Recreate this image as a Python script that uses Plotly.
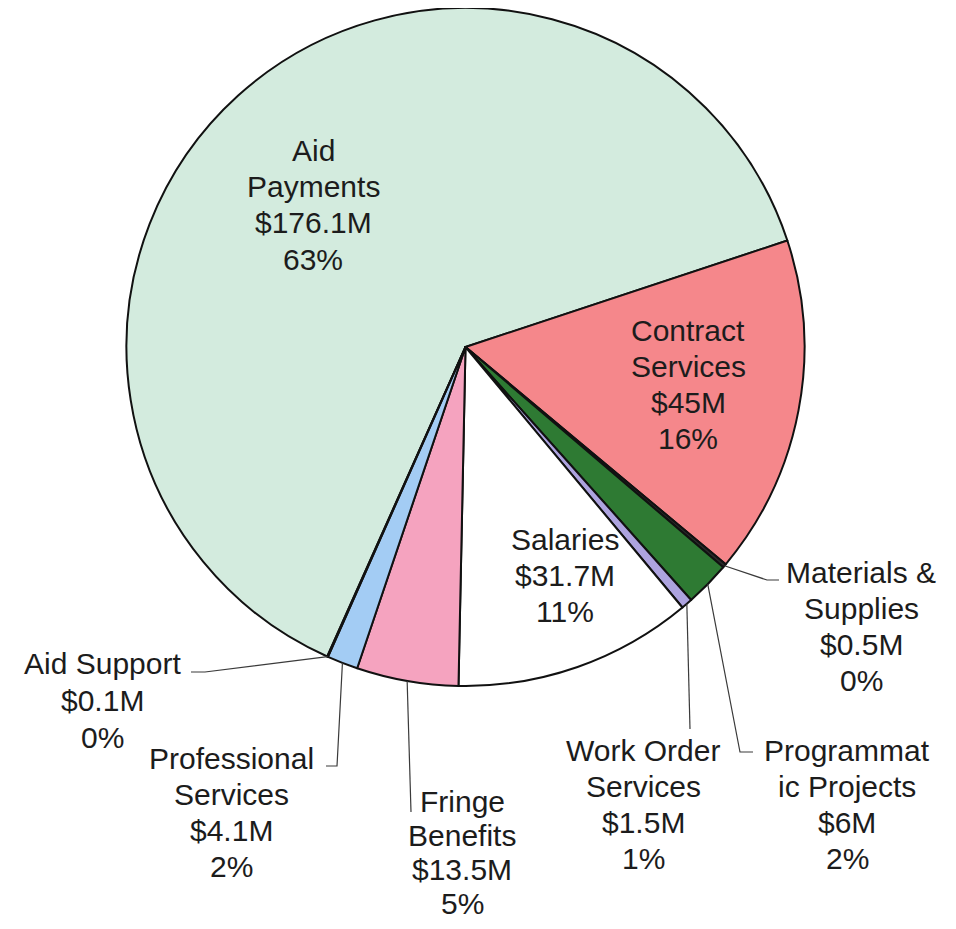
import math
import plotly.graph_objects as go

# ---------------- data ----------------
categories = ["Aid Payments", "Contract Services", "Materials & Supplies",
              "Programmatic Projects", "Work Order Services", "Salaries",
              "Fringe Benefits", "Professional Services", "Aid Support"]
label_lines = [["Aid", "Payments"], ["Contract", "Services"], ["Materials &", "Supplies"],
               ["Programmat", "ic Projects"], ["Work Order", "Services"], ["Salaries"],
               ["Fringe", "Benefits"], ["Professional", "Services"], ["Aid Support"]]
values_musd = [176.1, 45, 0.5, 6, 1.5, 31.7, 13.5, 4.1, 0.1]
value_labels = ["$176.1M", "$45M", "$0.5M", "$6M", "$1.5M", "$31.7M", "$13.5M", "$4.1M", "$0.1M"]
percent_labels = ["63%", "16%", "0%", "2%", "1%", "11%", "5%", "2%", "0%"]

# ---------------- styles ----------------
colors = ["#D3EBDE", "#F5878B", "#2A2A2A", "#2E7A33", "#ADA3DF",
          "#FFFFFF", "#F5A3BF", "#A3CCF4", "#E8D66A"]

OFFSET = 8                           # page body margin (pixels)
W, H = 956 - 2 * OFFSET, 929 - 2 * OFFSET
CX, CY, R = 465.5, 347.0, 339.0      # pie centre / radius in window pixels
CONTRACT_START = 71.7                # clockwise degrees from 12 o'clock
FONT = dict(family="Liberation Sans, Arial, sans-serif", size=30, color="#1c1c1c")

# label placement: centre x, first-line y, line gap (window pixels), leader-line bend points
label_layout = {
    "Aid Payments":          (313, 150, 36.5, None),
    "Contract Services":     (688, 330, 36.0, None),
    "Materials & Supplies":  (861, 572, 36.0, [(767, 580), (779, 580)]),
    "Programmatic Projects": (847, 750, 36.0, [(740, 752), (753, 752)]),
    "Work Order Services":   (643, 750, 36.0, [(690, 729)]),
    "Salaries":              (565, 539, 36.0, None),
    "Fringe Benefits":       (462, 801, 34.0, [(411, 812)]),
    "Professional Services": (231, 758, 36.3, [(337, 766), (326, 766)]),
    "Aid Support":           (102, 663, 37.0, [(205, 672), (191, 672)]),
}


def px(x):
    return (x - OFFSET) / W


def py(y):
    return 1 - (y - OFFSET) / H


total = sum(values_musd)
rotation = CONTRACT_START - 360 * values_musd[0] / total

fig = go.Figure(go.Pie(
    labels=categories,
    values=values_musd,
    sort=False,
    direction="clockwise",
    rotation=rotation,
    marker=dict(colors=colors, line=dict(color="#111111", width=2)),
    textinfo="none",
    hoverinfo="label+value+percent",
    showlegend=False,
    domain=dict(x=[max(0, px(CX - R)), min(1, px(CX + R))],
                y=[max(0, py(CY + R)), min(1, py(CY - R))]),
))

annotations = []
shapes = []
cum = 0.0
for i, name in enumerate(categories):
    start = rotation + 360 * cum / total
    cum += values_musd[i]
    mid = math.radians(start + 180 * values_musd[i] / total)
    xc, y0, gap, bends = label_layout[name]
    lines = label_lines[i] + [value_labels[i], percent_labels[i]]
    for k, t in enumerate(lines):
        annotations.append(dict(
            x=px(xc), y=py(y0 + k * gap), xref="paper", yref="paper",
            text=t, showarrow=False, xanchor="center", yanchor="middle",
            font=FONT,
        ))
    if bends:
        ex = CX + R * math.sin(mid)
        ey = CY - R * math.cos(mid)
        path = "M {:.5f} {:.5f}".format(px(ex), py(ey))
        for bx, by in bends:
            path += " L {:.5f} {:.5f}".format(px(bx), py(by))
        shapes.append(dict(type="path", xref="paper", yref="paper", path=path,
                           line=dict(color="#3a3a3a", width=1.2)))

fig.update_layout(
    width=W, height=H,
    margin=dict(l=0, r=0, t=0, b=0),
    paper_bgcolor="white", plot_bgcolor="white",
    annotations=annotations, shapes=shapes,
)

fig.write_html("out.html")
